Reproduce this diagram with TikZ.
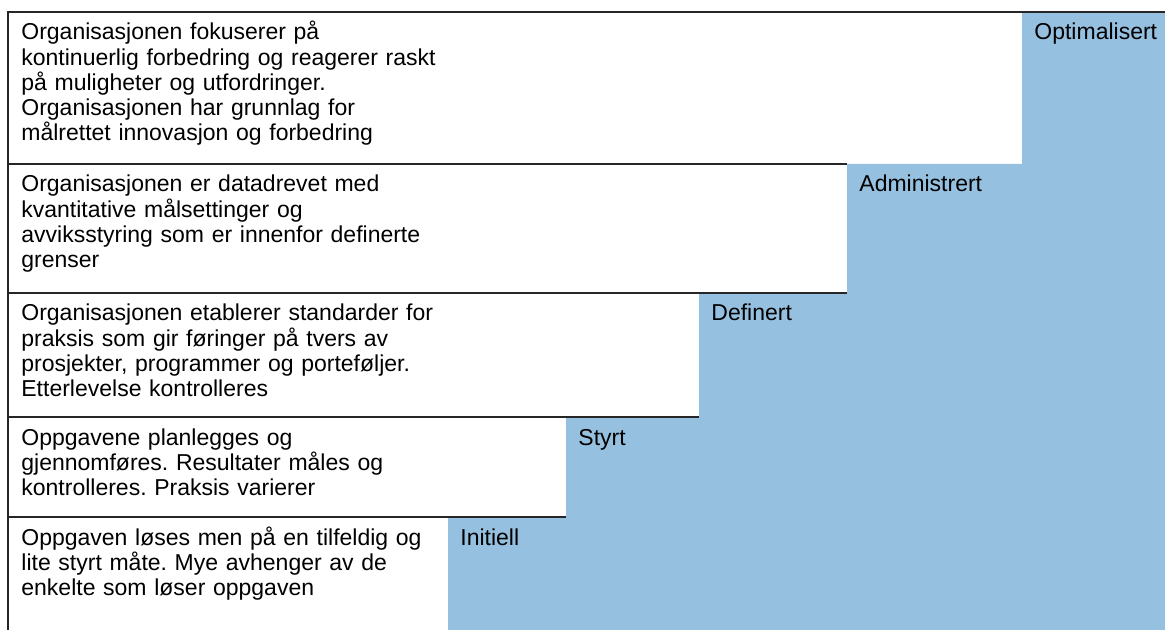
\documentclass[tikz,border=0pt]{standalone}
\usepackage{fontspec}
\setmainfont{Liberation Sans}
\usepackage{xcolor}
\usepackage{tikz}
\definecolor{stepblue}{RGB}{150,192,224}
\frenchspacing

\begin{document}
\begin{tikzpicture}[
    x=0.5pt, y=-0.5pt,
    desc/.style = {anchor=base west, inner sep=0pt, text width=230pt,
                   align=left, font=\fontsize{11.5}{12.6}\selectfont},
    lvl/.style  = {anchor=base west, inner sep=0pt,
                   font=\fontsize{11.5}{12.6}\selectfont},
    rule/.style = {draw=black!85, line width=1pt}
  ]
  \useasboundingbox (0,0) rectangle (1165,630);
  \fill[stepblue] (448,630) |- (566,517) |- (699,417) |- (847,293)
                  |- (1022,164) |- (1165,12) -- (1165,630) -- cycle;

  \draw[rule] (1165,12) -- (8,12) -- (8,630);
  \draw[rule] (8,164) -- (847,164);
  \draw[rule] (8,293) -- (847,293);
  \draw[rule] (8,417) -- (699,417);
  \draw[rule] (8,517) -- (566,517);

  \node[desc] (optx) at (21,40) {Organisasjonen fokuserer på\\kontinuerlig forbedring og reagerer raskt\\på muligheter og utfordringer.\\Organisasjonen har grunnlag for\\målrettet innovasjon og forbedring};
  \node[lvl]  (opt)  at (1034,40) {Optimalisert};
  \node[desc] (admx) at (21,192) {Organisasjonen er datadrevet med\\kvantitative målsettinger og\\avviksstyring som er innenfor definerte\\grenser};
  \node[lvl]  (adm)  at (859,192) {Administrert};
  \node[desc] (defx) at (21,321) {Organisasjonen etablerer standarder for\\praksis som gir føringer på tvers av\\prosjekter, programmer og porteføljer.\\Etterlevelse kontrolleres};
  \node[lvl]  (def)  at (711,321) {Definert};
  \node[desc] (styx) at (21,445) {Oppgavene planlegges og\\gjennomføres. Resultater måles og\\kontrolleres. Praksis varierer};
  \node[lvl]  (sty)  at (578,445) {Styrt};
  \node[desc] (inix) at (21,545) {Oppgaven løses men på en tilfeldig og\\lite styrt måte. Mye avhenger av de\\enkelte som løser oppgaven};
  \node[lvl]  (ini)  at (460,545) {Initiell};
\end{tikzpicture}
\end{document}
